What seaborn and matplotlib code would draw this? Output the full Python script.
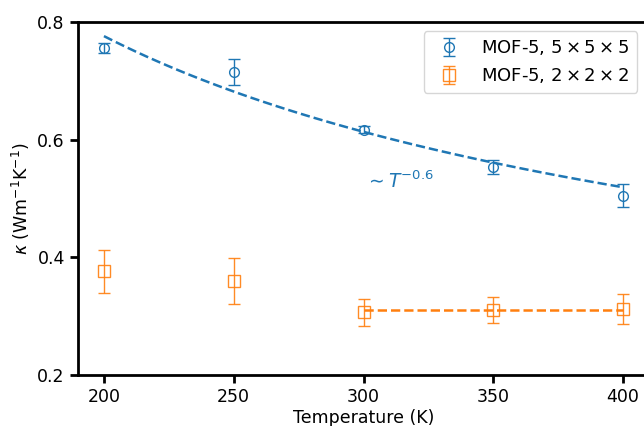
import matplotlib
matplotlib.use("Agg")
import matplotlib.pyplot as plt
import seaborn as sns
import numpy as np

temps = [200, 250, 300, 350, 400]

kappa_5 = [0.756, 0.715, 0.617, 0.553, 0.505]
err_5 = [0.009, 0.022, 0.006, 0.012, 0.019]

kappa_2 = [0.376, 0.360, 0.307, 0.311, 0.312]
err_2 = [0.036, 0.039, 0.023, 0.022, 0.025]

# power-law fit  kappa = A * T^b for 5x5x5
fit_T = np.linspace(200, 400, 50)
fit_exp = -0.58
fit_A = 0.776 * 200 ** (-fit_exp)
fit_kappa = fit_A * fit_T ** fit_exp

# constant fit for 2x2x2 (300-400 K)
const_T = [300, 400]
const_kappa = [0.31, 0.31]

sns.set_theme(style="ticks", rc={"axes.linewidth": 2.0, "xtick.major.width": 2.0,
                                 "ytick.major.width": 2.0, "xtick.major.size": 6,
                                 "ytick.major.size": 6, "axes.edgecolor": "black",
                                 "text.color": "black", "axes.labelcolor": "black",
                                 "xtick.color": "black", "ytick.color": "black"})
plt.rcParams['font.family'] = ['DejaVu Sans']

blue = '#1f77b4'
orange = '#ff7f0e'

fig = plt.figure(figsize=(6.44, 4.26), dpi=100)
ax = fig.add_axes([78 / 644, 51 / 426, 571 / 644, 353 / 426])

ax.errorbar(temps, kappa_5, yerr=err_5, fmt='o', mfc='none', color=blue,
            markersize=7, capsize=4, elinewidth=1.0, capthick=1.0,
            label=r'MOF-5, $5\times5\times5$')
ax.errorbar(temps, kappa_2, yerr=err_2, fmt='s', mfc='none', color=orange,
            markersize=8, capsize=4, elinewidth=1.0, capthick=1.0, alpha=0.9,
            label=r'MOF-5, $2\times2\times2$')

sns.lineplot(x=fit_T, y=fit_kappa, ax=ax, color=blue, linestyle='--', linewidth=1.8)
sns.lineplot(x=const_T, y=const_kappa, ax=ax, color=orange, linestyle='--', linewidth=1.8)

ax.text(300.5, 0.518, r'$\sim T^{-0.6}$', color=blue, fontsize=13.5)

ax.set_xlim(190, 410)
ax.set_ylim(0.2, 0.8)
ax.set_xticks([200, 250, 300, 350, 400])
ax.set_yticks([0.2, 0.4, 0.6, 0.8])
ax.tick_params(labelsize=12.5)
ax.set_xlabel('Temperature (K)', fontsize=12.5, labelpad=2)
ax.set_ylabel(r'$\kappa$ (Wm$^{-1}$K$^{-1}$)', fontsize=12.5)
ax.spines['right'].set_visible(False)

ax.legend(loc='upper right', fontsize=13, bbox_to_anchor=(0.995, 1.0))

fig.savefig('out.png', dpi=100)
